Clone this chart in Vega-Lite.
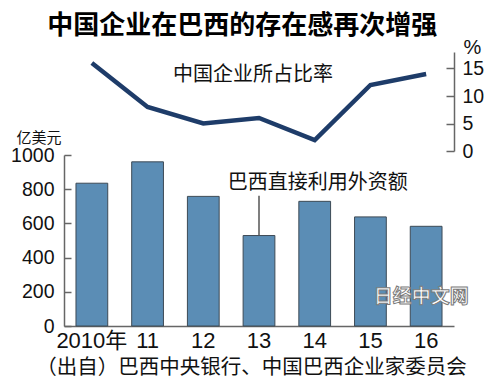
{
  "$schema": "https://vega.github.io/schema/vega-lite/v6.json",
  "background": "white",
  "padding": {"left": 10, "top": 13, "right": 5, "bottom": 5},
  "title": {
    "text": "中国企业在巴西的存在感再次增强",
    "font": "Noto Sans CJK SC",
    "fontSize": 26,
    "fontWeight": "bold",
    "color": "#000000",
    "anchor": "middle",
    "dx": -5,
    "offset": -2
  },
  "datasets": {
    "main": [
      {"year": "2010年", "fdi": 835, "share": 16},
      {"year": "11", "fdi": 960, "share": 8},
      {"year": "12", "fdi": 758, "share": 5},
      {"year": "13", "fdi": 529, "share": 6},
      {"year": "14", "fdi": 729, "share": 2},
      {"year": "15", "fdi": 638, "share": 12},
      {"year": "16", "fdi": 583, "share": 14}
    ],
    "lineLabel": [{"year": "13", "share": 13.8, "label": "中国企业所占比率"}],
    "barLabel": [{"year": "14", "fdi": 838, "label": "巴西直接利用外资额"}],
    "leader": [{"year": "13", "fdi": 762, "fdi2": 529}],
    "mark": [{"year": "16", "fdi": 167, "label": "日经中文网"}]
  },
  "spacing": 4,
  "bounds": "flush",
  "config": {"view": {"stroke": null}, "font": "Noto Sans CJK SC", "axis": {"labelOverlap": false}},
  "vconcat": [
    {
      "width": 390,
      "height": 99,
      "layer": [
        {
          "data": {"name": "main"},
          "mark": {"type": "line", "color": "#1e3c69", "strokeWidth": 4.5, "strokeJoin": "miter"},
          "encoding": {
            "x": {"field": "year", "type": "ordinal", "sort": null, "scale": {"paddingInner": 0.43, "paddingOuter": 0.215}, "axis": null},
            "y": {
              "field": "share", "type": "quantitative",
              "scale": {"domain": [0, 18], "nice": false},
              "axis": {
                "orient": "right", "values": [0, 5, 10, 15], "tickCount": 20, "format": "d", "grid": false, "labelOverlap": false,
                "domainColor": "#666666", "tickColor": "#666666", "domainWidth": 1.5, "tickWidth": 1.5,
                "tickSize": -8, "labelPadding": 16,
                "labelFont": "Liberation Sans", "labelFontSize": 19.5, "labelColor": "#111111",
                "title": "%", "titleFont": "Liberation Sans", "titleFontSize": 20, "titleFontWeight": "normal", "titleColor": "#111111",
                "titleAngle": 0, "titleAlign": "center", "titleBaseline": "middle", "titleX": 18, "titleY": -5
              }
            }
          }
        },
        {
          "data": {"name": "lineLabel"},
          "mark": {"type": "text", "fontSize": 20, "dx": -6, "color": "#111111", "baseline": "middle"},
          "encoding": {
            "x": {"field": "year", "type": "ordinal", "sort": null},
            "y": {"field": "share", "type": "quantitative"},
            "text": {"field": "label"}
          }
        }
      ]
    },
    {
      "width": 390,
      "height": 171,
      "layer": [
        {
          "data": {"name": "main"},
          "mark": {"type": "bar", "fill": "#5b8db5", "stroke": "#3d4a55", "strokeWidth": 1},
          "encoding": {
            "x": {
              "field": "year", "type": "ordinal", "sort": null,
              "scale": {"paddingInner": 0.43, "paddingOuter": 0.215},
              "axis": {
                "labelAngle": 0, "ticks": false, "domainColor": "#666666", "domainWidth": 1.5, "labelOverlap": false,
                "labelFont": "Liberation Sans, Noto Sans CJK SC", "labelFontSize": 22, "labelColor": "#111111", "labelPadding": 4,
                "title": "（出自）巴西中央银行、中国巴西企业家委员会",
                "titleFont": "Noto Sans CJK SC", "titleFontSize": 20.5, "titleFontWeight": "normal", "titleColor": "#111111",
                "titleX": 187, "titleY": 41, "titleBaseline": "middle", "titleAlign": "center"
              }
            },
            "y": {
              "field": "fdi", "type": "quantitative",
              "scale": {"domain": [0, 1000], "nice": false},
              "axis": {
                "values": [0, 200, 400, 600, 800, 1000], "tickCount": 20, "format": "d", "grid": false, "labelOverlap": false,
                "domainColor": "#666666", "tickColor": "#666666", "domainWidth": 1.5, "tickWidth": 1.5,
                "tickSize": -7, "labelPadding": 17,
                "labelFont": "Liberation Sans", "labelFontSize": 19.5, "labelColor": "#111111",
                "title": "亿美元", "titleFont": "Noto Sans CJK SC", "titleFontSize": 15, "titleFontWeight": "normal", "titleColor": "#111111",
                "titleAngle": 0, "titleAlign": "left", "titleBaseline": "middle", "titleX": -48, "titleY": -18
              }
            }
          }
        },
        {
          "data": {"name": "leader"},
          "mark": {"type": "rule", "color": "#555555", "strokeWidth": 1.5},
          "encoding": {
            "x": {"field": "year", "type": "ordinal", "sort": null},
            "y": {"field": "fdi", "type": "quantitative"},
            "y2": {"field": "fdi2"}
          }
        },
        {
          "data": {"name": "barLabel"},
          "mark": {"type": "text", "fontSize": 20, "dx": 3, "color": "#111111", "baseline": "middle"},
          "encoding": {
            "x": {"field": "year", "type": "ordinal", "sort": null},
            "y": {"field": "fdi", "type": "quantitative"},
            "text": {"field": "label"}
          }
        },
        {
          "data": {"name": "mark"},
          "mark": {"type": "text", "fontSize": 19, "fontWeight": "bold", "dx": -5, "fill": "#ffffff", "stroke": "#7a7a7a", "strokeWidth": 1, "baseline": "middle"},
          "encoding": {
            "x": {"field": "year", "type": "ordinal", "sort": null},
            "y": {"field": "fdi", "type": "quantitative"},
            "text": {"field": "label"}
          }
        }
      ]
    }
  ]
}
